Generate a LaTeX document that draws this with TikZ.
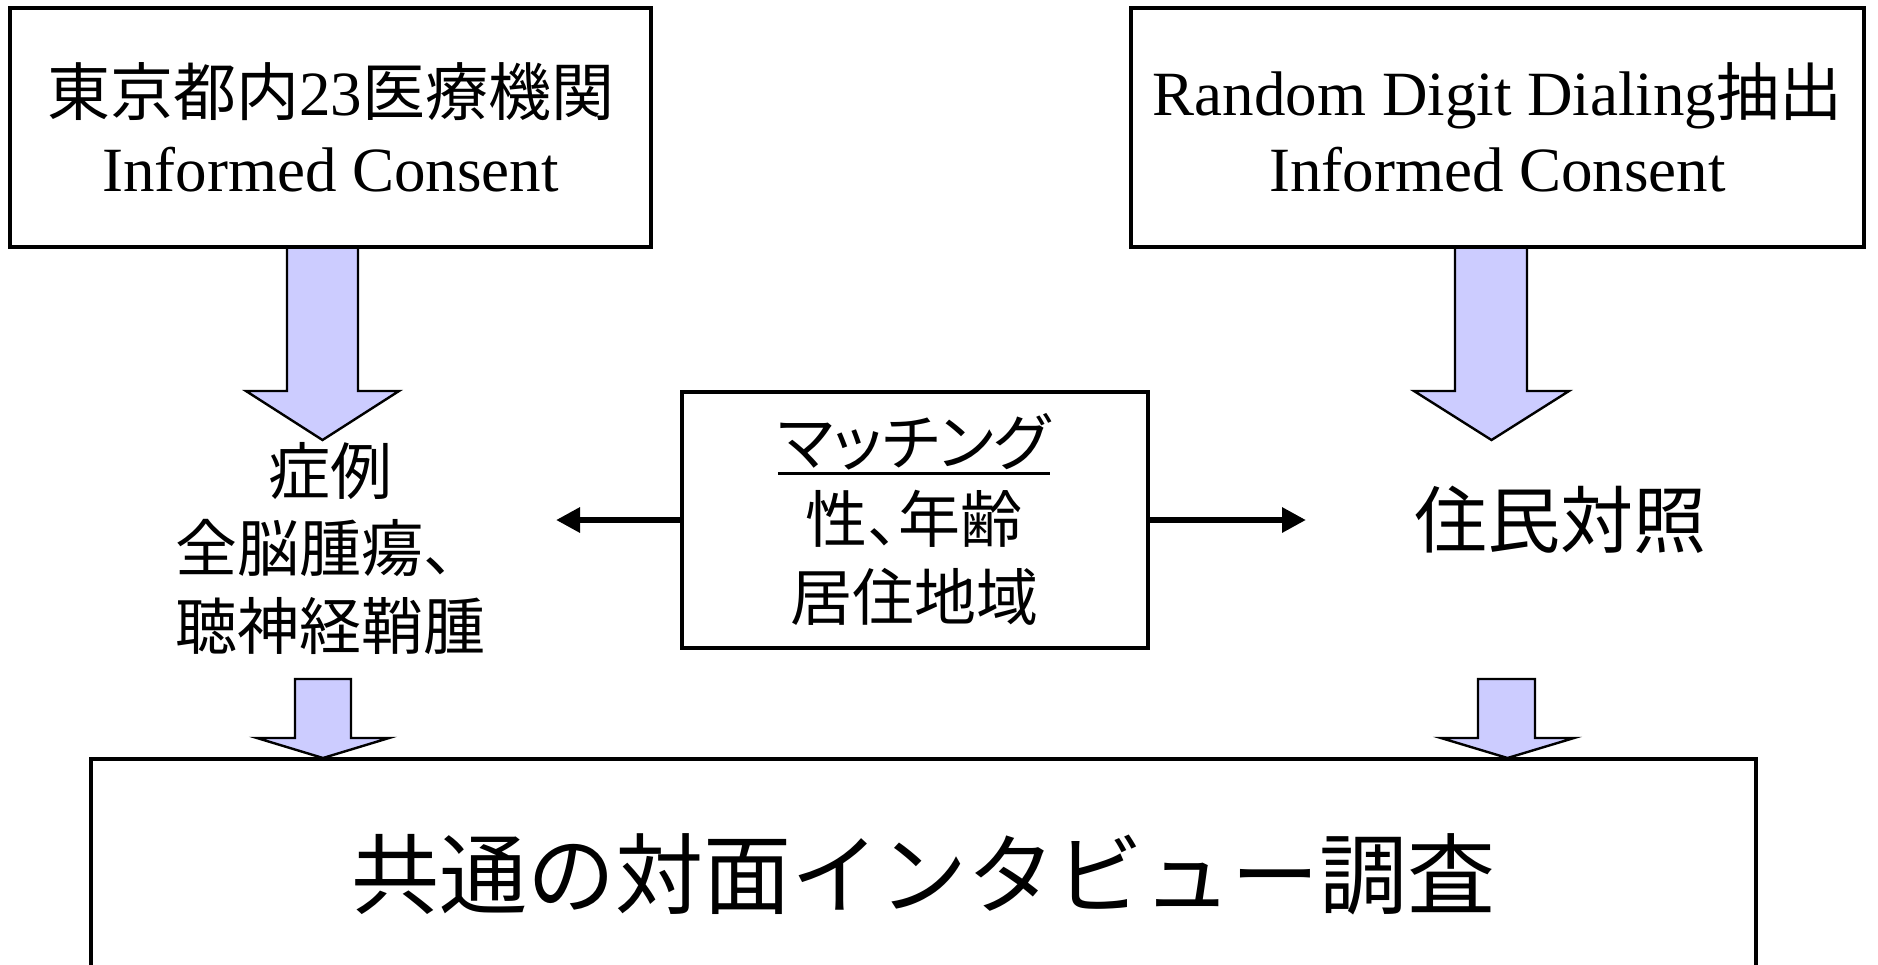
\documentclass[tikz,border=0pt]{standalone}
\usepackage{fontspec}
\setmainfont{Liberation Serif}
\newfontfamily\jp{Noto Sans CJK JP}
\newfontfamily\jpp[RawFeature=+palt]{Noto Sans CJK JP}
\usetikzlibrary{arrows.meta}
\definecolor{arrowfill}{RGB}{204,204,255}
\newcommand\thickul[1]{\setbox0=\hbox{#1}\vtop{\copy0\kern1pt\hrule height1.6pt width\wd0}}
\tikzset{
  box/.style={draw=black, line width=1.8pt, fill=white, inner sep=0pt},
  blockarrow/.style={draw=black, line width=1.2pt, fill=arrowfill, line join=miter},
  conn/.style={line width=3.3pt, -{Triangle[length=12pt,width=12pt]}},
  toptxt/.style={align=center, font={\fontsize{31.5}{38}\selectfont}},
  jptxt/.style={align=center, inner sep=0pt, font={\jp\fontsize{31}{38.75}\selectfont}},
}
\begin{document}
\begin{tikzpicture}[x=0.5pt,y=-0.5pt]
\clip (0,0) rectangle (1878,964);
\fill[white] (0,0) rectangle (1878,964);
% block arrows (drawn first, boxes overlay their tops)
\draw[blockarrow] (287,247) -- (287,391) -- (246,391) -- (322.5,440) -- (399,391) -- (358,391) -- (358,247) -- cycle;
\draw[blockarrow] (1455,247) -- (1455,391) -- (1414,391) -- (1491.5,440) -- (1569,391) -- (1527,391) -- (1527,247) -- cycle;
\draw[blockarrow] (295,679) -- (295,738) -- (257,738) -- (323,758) -- (389,738) -- (351,738) -- (351,679) -- cycle;
\draw[blockarrow] (1478,679) -- (1478,738) -- (1441,738) -- (1507.5,758) -- (1574,738) -- (1535,738) -- (1535,679) -- cycle;
% top boxes
\node[box, toptxt, minimum width=320.5pt, minimum height=119.5pt] (tl) at (330.5,127.5)
  {{\jp 東京都内}23{\jp 医療機関}\\Informed Consent};
\node[box, toptxt, minimum width=366.5pt, minimum height=119.5pt] (tr) at (1497.5,127.5)
  {Random Digit Dialing{\jp 抽出}\\Informed Consent};
% case text
\node[jptxt] (case) at (330,548) {症例\\全脳腫瘍、\\聴神経鞘腫};
% control text
\node[inner sep=0pt, font={\jp\fontsize{36.5}{40}\selectfont}] (ctrl) at (1560,520) {住民対照};
% matching box
\node[box, minimum width=233pt, minimum height=128pt] (match) at (915,520) {};
\node[jptxt] (matchtxt) at (914,519) {\thickul{\jpp マッチング}\\{\jpp 性、年齢}\\居住地域};
% connectors
\coordinate (lt) at (556,520);
\coordinate (rt) at (1306,520);
\draw[conn] (match.west) -- (lt);
\draw[conn] (match.east) -- (rt);
% bottom box
\node[box, minimum width=832.5pt, minimum height=115.5pt, font={\jp\fontsize{44}{50}\selectfont}] (survey) at (923.5,874.5) {共通の対面インタビュー調査};
\end{tikzpicture}
\end{document}
